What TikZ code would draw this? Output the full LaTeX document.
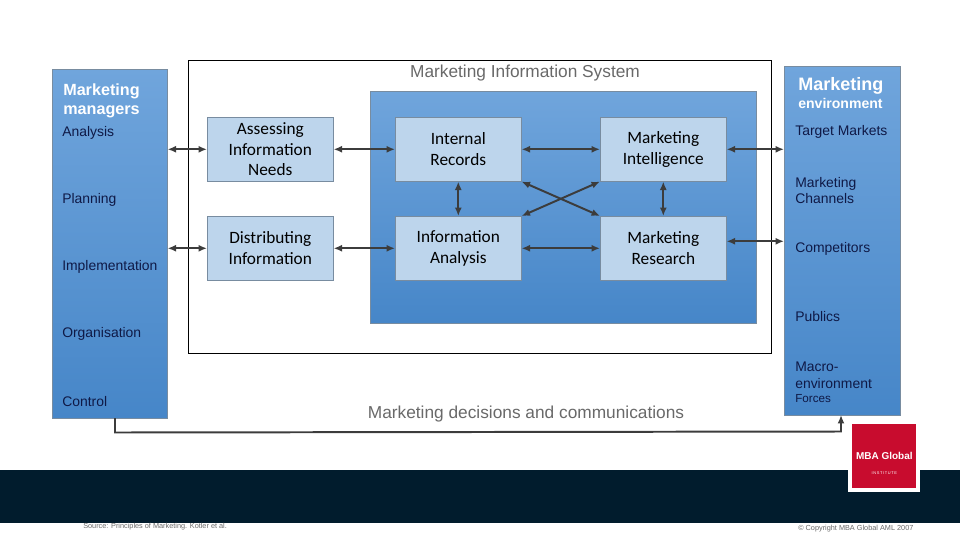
\documentclass[tikz,border=0pt]{standalone}
\usepackage{fontspec}
\usepackage{xcolor}
\usetikzlibrary{positioning, arrows.meta, calc}
\setmainfont{Liberation Sans}
\newfontfamily\boxfont{Carlito}
\definecolor{myNavy}{RGB}{1,28,45}
\definecolor{myRed}{RGB}{200,12,46}
\definecolor{myPale}{RGB}{189,213,236}
\definecolor{myEdge}{RGB}{120,140,160}
\definecolor{myTop}{RGB}{112,165,220}
\definecolor{myLow}{RGB}{70,134,200}
\definecolor{myInk}{RGB}{15,25,70}
\definecolor{myGrey}{RGB}{105,105,105}
\definecolor{myLine}{RGB}{60,60,60}

\begin{document}
\begin{tikzpicture}[
  x=0.025cm, y=-0.025cm,
  panel/.style={draw=myEdge, top color=myTop, bottom color=myLow, inner sep=0pt, anchor=north west},
  infobox/.style={draw=myEdge, fill=myPale, inner sep=0pt, anchor=north west, align=center,
    text width=3.15cm, font=\boxfont\fontsize{12.3}{14.6}\selectfont, text=black},
  head/.style={anchor=west, align=left, text=white, font=\bfseries\fontsize{11.5}{13.5}\selectfont, inner sep=0pt},
  item/.style={anchor=west, align=left, text=myInk, font=\fontsize{9.9}{12}\selectfont, inner sep=0pt},
  caption/.style={anchor=center, text=myGrey, font=\fontsize{12.3}{14}\selectfont, inner sep=0pt},
  link/.style={draw=myLine, line width=1.4pt, {Latex[length=6pt,width=5pt]}-{Latex[length=6pt,width=5pt]}},
]
  \useasboundingbox (0,0) rectangle (960,540);
  % footer band and logo
  \fill[myNavy] (0,470) rectangle (960,523);
  \node[fill=white, minimum size=1.8cm, inner sep=0pt, anchor=north west] (logoback) at (848,420) {};
  \node[fill=myRed, minimum size=1.6cm, inner sep=0pt, text=white, align=center] (logo) at (logoback.center)
    {\\[3pt]\bfseries\fontsize{7.1}{8}\selectfont MBA Global\\[-1pt]\fontsize{2.8}{3}\selectfont I\,N\,S\,T\,I\,T\,U\,T\,E};

  % outer panels
  \node[panel, minimum width=2.875cm, minimum height=8.725cm] (managers) at (52,69) {};
  \node[panel, minimum width=2.9cm, minimum height=8.725cm] (environ) at (784,66) {};
  \node[draw=black, line width=0.8pt, minimum width=14.575cm, minimum height=7.325cm, inner sep=0pt, anchor=north west] (system) at (188,60) {};
  \node[panel, minimum width=9.65cm, minimum height=5.8cm] (core) at (370,91) {};

  % boxes
  \node[infobox, minimum height=1.6cm] (assess) at (207,117) {Assessing\\Information\\Needs};
  \node[infobox, minimum height=1.6cm] (distrib) at (207,216) {Distributing\\Information};
  \node[infobox, minimum height=1.6cm] (internal) at (395,117) {Internal\\Records};
  \node[infobox, minimum height=1.6cm] (intel) at (600,117) {Marketing\\Intelligence};
  \node[infobox, minimum height=1.6cm] (analysis) at (395,216) {Information\\Analysis};
  \node[infobox, minimum height=1.6cm] (research) at (600,216) {Marketing\\Research};

  % left column
  \node[head] (mgrhead) at (63,100.5) {Marketing\\managers};
  \node[item] (analysisitem) at (62,133) {Analysis};
  \node[item] (planning) at (62,200) {Planning};
  \node[item] (implement) at (62,267) {Implementation};
  \node[item] (organise) at (62,334) {Organisation};
  \node[item] (control) at (62,402) {Control};

  % right column
  \node[head, font=\bfseries\fontsize{12.8}{14}\selectfont] (envhead) at (798,85.5) {Marketing};
  \node[head, font=\bfseries\fontsize{10}{12}\selectfont] (envsub) at (798,103.5) {environment};
  \node[item] (target) at (795,132) {Target Markets};
  \node[item] (channels) at (795,190.5) {Marketing\\Channels};
  \node[item] (competitors) at (795,249) {Competitors};
  \node[item] (publics) at (795,317) {Publics};
  \node[item] (macro) at (795,375.5) {Macro-\\environment};
  \node[item, font=\fontsize{8.3}{10}\selectfont] (forces) at (795,399) {Forces};

  % captions
  \node[caption] (systitle) at (525,73) {Marketing Information System};
  \node[caption] (decisions) at (526,414) {Marketing decisions and communications};

  % footer texts
  \node[anchor=west, inner sep=0pt, text=myGrey, font=\fontsize{5.2}{6}\selectfont] (source) at (83,527) {Source: Principles of Marketing. Kotler et al.};
  \node[anchor=west, inner sep=0pt, text=myGrey, font=\fontsize{5.2}{6}\selectfont] (copyright) at (798,529) {© Copyright MBA Global AML 2007};

  % connectors
  \draw[link] (managers.east |- assess.west) -- (assess.west);
  \draw[link] (managers.east |- distrib.west) -- (distrib.west);
  \draw[link] (assess.east) -- (internal.west);
  \draw[link] (distrib.east) -- (analysis.west);
  \draw[link] (internal.east) -- (intel.west);
  \draw[link] (analysis.east) -- (research.west);
  \draw[link] (internal.south) -- (analysis.north);
  \draw[link] (intel.south) -- (research.north);
  \draw[link] (internal.south east) -- (research.north west);
  \draw[link] (intel.south west) -- (analysis.north east);
  \draw[link] (intel.east) -- (environ.west |- intel.east);
  \draw[link] ($(research.east)+(0,-7)$) -- (environ.west |- {$(research.east)+(0,-7)$});
  \coordinate (decstart) at (115,418);
  \coordinate (decend) at (841,415);
  \draw[draw=myLine, line width=1.4pt, -{Latex[length=6pt,width=5pt]}] (decstart) -- (115,432.5) -- (841,431.5) -- (decend);
\end{tikzpicture}
\end{document}
